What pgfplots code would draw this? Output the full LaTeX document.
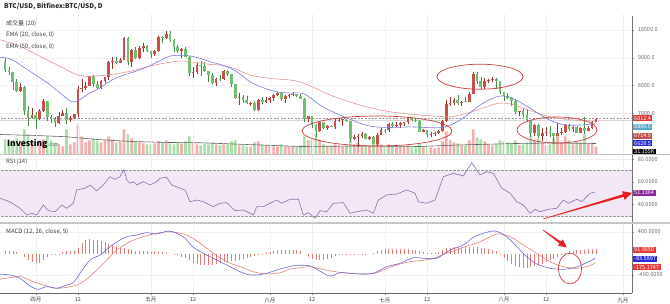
\documentclass[border=0pt]{standalone}
\usepackage{fontspec}
\setmainfont{Noto Sans CJK SC}
\usepackage{pgfplots}
\pgfplotsset{compat=1.18}
\usepackage{pgfplotstable}
\usetikzlibrary{arrows.meta}

\definecolor{upc}{RGB}{200,80,75}
\definecolor{upw}{RGB}{160,50,45}
\definecolor{dnc}{RGB}{112,192,112}
\definecolor{dnw}{RGB}{70,140,70}
\definecolor{upv}{RGB}{242,175,175}
\definecolor{dnv}{RGB}{172,222,172}
\definecolor{ema20}{RGB}{120,125,210}
\definecolor{ema50}{RGB}{225,150,150}
\definecolor{rsiband}{RGB}{242,231,245}
\definecolor{rsiline}{RGB}{135,115,170}
\definecolor{macdb}{RGB}{105,105,215}
\definecolor{macdr}{RGB}{225,130,120}
\definecolor{histc}{RGB}{228,125,120}
\definecolor{annot}{RGB}{205,60,60}
\definecolor{arrowr}{RGB}{232,30,30}
\definecolor{txt}{RGB}{60,60,60}
\definecolor{tickc}{RGB}{110,110,110}
\definecolor{lred}{RGB}{229,57,53}
\definecolor{lteal}{RGB}{90,169,200}
\definecolor{lbrown}{RGB}{192,80,77}
\definecolor{lblue}{RGB}{42,42,216}
\definecolor{lpurple}{RGB}{138,42,160}

% up candles: day o h l c volume(K)
\pgfplotstableread{
d o h l c v
-4 7790 8100 7750 7937 48
-1 6845 7200 6820 6926 48
1 6813 7150 6770 7083 56
2 7083 7500 7050 7456 60
6 6636 7060 6620 6911 40
7 6911 7110 6890 7023 32
9 6770 6890 6680 6834 40
10 6834 6980 6810 6968 48
11 6968 8000 6850 7889 120
12 7889 8220 7780 7915 72
13 7895 8140 7830 7986 48
14 7986 8360 7986 8329 56
17 7902 8200 7880 8163 48
18 8163 8300 8100 8294 56
19 8294 8900 8200 8845 72
20 8845 9040 8600 8895 60
22 8802 9000 8800 8930 52
23 8930 9730 8920 9697 100
25 8845 9300 8650 9281 64
27 8987 9430 8960 9348 48
28 9348 9520 9200 9419 44
31 9119 9270 9080 9235 44
32 9235 9790 9200 9743 52
34 9700 9960 9690 9858 56
38 9234 9360 9000 9325 44
41 8441 8650 8260 8504 48
42 8504 8800 8410 8723 40
47 8094 8270 7980 8250 40
49 8247 8570 8200 8513 40
53 7557 7730 7310 7587 36
56 7345 7400 7260 7378 32
58 7136 7530 7080 7472 52
60 7406 7600 7380 7494 36
61 7494 7600 7360 7541 36
62 7541 7700 7460 7643 32
63 7643 7760 7620 7720 32
65 7514 7660 7380 7633 32
66 7633 7700 7550 7663 32
67 7653 7760 7640 7688 32
71 6786 6900 6680 6906 56
74 6349 6700 6330 6675 60
76 6456 6580 6400 6550 32
78 6500 6780 6440 6734 40
79 6734 6830 6700 6769 36
80 6760 6800 6560 6786 32
83 6083 6230 6050 6162 40
84 6162 6240 5790 6184 48
85 6174 6330 6110 6249 36
87 6093 6190 6050 6157 36
89 5903 6300 5830 6218 48
90 6218 6480 6210 6404 40
92 6385 6650 6320 6614 40
94 6529 6700 6500 6597 32
95 6597 6700 6460 6639 32
96 6639 6700 6540 6673 32
97 6673 6860 6620 6857 36
101 6329 6420 6320 6394 32
103 6218 6340 6140 6248 28
104 6238 6310 6200 6276 24
105 6276 6400 6260 6359 28
106 6359 6760 6340 6741 52
107 6741 7470 6700 7321 92
108 7321 7580 7270 7370 56
109 7370 7540 7290 7466 48
111 7354 7440 7280 7419 36
113 7418 7770 7400 7711 56
114 7711 8480 7700 8424 100
117 7951 8260 7860 8165 52
118 8165 8230 8080 8192 40
119 8192 8290 8120 8228 36
126 7032 7100 6890 7069 36
130 6305 6630 6200 6568 56
132 6184 6480 6020 6295 48
133 6295 6490 6180 6322 36
136 6200 6650 6180 6308 80
137 6308 6480 6230 6334 48
138 6334 6600 6300 6581 72
140 6423 6560 6330 6506 40
142 6308 6500 6290 6488 48
144 6377 6540 6350 6487 44
145 6487 6730 6440 6703 48
146 6703 6830 6680 6812.4 31.155
}\tup

% down candles
\pgfplotstableread{
d o h l c v
-8 8901 9000 8500 8547 60
-7 8547 8680 8380 8470 52
-6 8470 8500 7850 8140 56
-5 8140 8220 7750 7790 64
-3 7937 7980 6950 7084 100
-2 7084 7250 6550 6845 80
0 6926 7050 6450 6813 52
3 7456 7460 6730 6853 72
4 6853 6930 6660 6811 56
5 6811 6850 6520 6636 48
8 7023 7180 6630 6770 100
15 8329 8380 7940 8058 64
16 8058 8160 7870 7902 52
21 8895 9020 8760 8802 48
24 9697 9760 8730 8845 80
26 9281 9390 8970 8987 52
29 9419 9460 9200 9240 40
30 9240 9250 8980 9119 40
33 9743 9780 9520 9700 48
35 9858 9950 9560 9654 44
36 9654 9670 9200 9373 40
37 9373 9450 9170 9234 48
39 9325 9390 9030 9043 52
40 9043 9050 8360 8441 72
43 8723 8880 8330 8700 36
44 8716 8830 8470 8510 44
45 8510 8520 8120 8368 40
46 8368 8450 8050 8094 48
48 8250 8380 8170 8225 36
50 8513 8560 8340 8418 40
51 8418 8420 7960 8041 52
52 8041 8050 7510 7557 56
54 7587 7660 7360 7480 36
55 7480 7620 7320 7355 32
57 7368 7440 7100 7136 48
59 7472 7570 7330 7406 40
64 7720 7750 7460 7514 40
68 7678 7690 7580 7624 32
69 7624 7690 7500 7531 36
70 7531 7540 6690 6786 72
72 6906 6910 6460 6582 60
73 6582 6620 6130 6349 80
75 6675 6690 6440 6456 40
77 6550 6590 6490 6500 32
81 6776 6800 6700 6729 36
82 6729 6740 5950 6083 60
86 6249 6290 6080 6093 32
88 6157 6170 5880 5903 44
91 6404 6430 6300 6375 32
93 6614 6690 6500 6529 36
98 6857 6880 6730 6773 28
99 6773 6800 6680 6741 28
100 6741 6770 6320 6329 40
102 6394 6400 6130 6228 36
110 7466 7660 7300 7354 44
112 7429 7570 7390 7395 36
115 8424 8490 8070 8181 68
116 8181 8300 7880 7951 60
120 8218 8270 7880 8180 40
121 8180 8180 7700 7780 56
122 7780 7780 7460 7625 52
123 7625 7720 7500 7567 48
124 7567 7570 7280 7434 44
125 7434 7500 6960 7032 56
127 7069 7160 6860 6951 40
128 6951 7150 6690 6754 48
129 6754 6770 6130 6305 72
131 6568 6600 6110 6184 64
134 6322 6540 6150 6287 40
135 6297 6300 5880 6200 64
139 6581 6620 6360 6423 56
141 6506 6540 6300 6308 48
143 6488 6880 6260 6377 80
}\tdn

\pgfplotstableread{
d v
-9.33 80
0 76
8 71
16 60
25 52
35 48
43 47
55 40
69 32
85 34
100 32
110 38
125 44
135 46
146 44
}\vma

\pgfplotstableread{
d e
-9.33 9017
-6.73 8967
-4.12 8750
-1.51 8513
1.09 8272
3.70 8030
6.31 7731
8.91 7454
10.2 7407
11.5 7490
14.1 7731
16.7 7911
19.3 8153
22.0 8333
24.6 8452
27.2 8570
29.8 8720
32.4 8900
35.0 9060
37.6 9090
40.2 9064
42.8 8980
45.4 8858
48.0 8760
50.6 8632
53.2 8420
55.8 8138
58.4 7970
61.0 7838
63.6 7760
66.3 7729
68.9 7735
70.2 7680
72.1 7500
74.1 7297
76.7 7100
79.3 6937
81.9 6790
84.5 6640
87.1 6540
89.7 6500
92.3 6490
95.0 6500
97.5 6510
100.2 6500
103.0 6480
106.1 6490
108.4 6600
110.6 6756
113.2 7020
115.8 7297
118.4 7500
121.0 7621
123.6 7580
126.2 7400
128.8 7189
131.4 6960
134.0 6756
136.6 6620
139.3 6570
142.0 6580
144.0 6600
145.8 6628.5
}\emaA

\pgfplotstableread{
d e
-9.33 9651
-4.12 9413
1.09 9053
6.31 8693
10.7 8390
14.1 8333
19.3 8390
24.6 8513
27.2 8606
29.8 8700
33.7 8810
37.6 8880
40.3 8858
45.4 8760
48.0 8740
52.0 8600
55.8 8378
61.0 8260
66.3 8198
68.9 8126
73.0 7900
76.7 7657
80.6 7470
84.5 7297
88.4 7160
92.3 7056
96.2 6990
100.2 6937
104.1 6900
108.0 6875
112.0 6990
115.8 7153
118.4 7280
121.0 7369
123.6 7340
126.2 7225
130.1 7040
134.0 6875
138.0 6790
142.0 6740
145.8 6714.9
}\emaB

\pgfplotstableread{
d r
-9.33 45.6
-6.73 42.6
-4.12 36.8
-2.37 30.9
-1.07 32.4
0.23 30.9
1.96 39.7
3.26 34.7
5.01 33.8
6.75 39.7
8.06 36.8
9.78 41.2
10.66 53.0
12.83 54.5
14.13 57.4
15.88 52.3
17.60 57.4
19.34 64.7
20.65 62.4
21.95 64.7
22.99 71.0
23.70 61.8
24.56 58.9
25.42 60.3
26.30 57.4
28.02 60.3
29.77 57.4
31.52 60.3
32.38 63.3
34.12 64.2
35.43 57.4
37.59 54.5
38.90 53.0
40.20 42.6
41.95 44.1
43.67 42.6
46.27 38.2
48.02 41.2
49.77 41.8
51.93 34.7
54.09 35.3
56.70 30.9
57.59 38.2
59.31 38.2
61.05 41.2
62.80 44.1
64.10 41.2
66.27 44.8
68.44 44.8
69.74 30.9
71.04 32.9
72.78 28.0
74.09 34.7
75.83 33.8
77.56 41.2
80.16 41.8
81.91 32.4
83.66 33.8
86.26 35.3
87.98 32.4
89.29 44.1
91.48 48.6
94.08 49.4
96.69 53.0
98.85 50.1
99.71 42.6
101.90 41.2
104.07 44.1
106.23 64.7
108.84 67.7
111.44 65.3
113.63 77.1
115.80 66.2
117.54 69.1
119.27 67.7
121.45 54.5
123.62 50.1
125.36 42.6
127.09 39.7
128.83 32.4
130.14 35.9
131.44 33.8
133.60 35.9
135.79 36.8
137.51 44.1
138.82 41.2
141.01 44.8
142.31 42.6
144.47 50.1
145.8 51.1364
}\rsi

\pgfplotstableread{
d m
-9.33 -387
-6.73 -400
-4.12 -461
-1.51 -605
0.65 -666
2.84 -617
5.45 -647
8.06 -586
9.78 -543
11.52 -368
14.13 -121
16.74 -28
19.34 126
21.95 251
23.70 313
26.30 344
28.91 387
31.52 363
34.54 419
36.73 376
38.90 283
41.06 115
43.67 4
46.27 -89
48.88 -182
52.37 -307
54.98 -387
57.59 -400
60.19 -368
62.80 -307
65.41 -257
67.8 -220
71.48 -230
74.09 -330
76.69 -420
79.30 -357
81.91 -368
84.52 -381
87.98 -368
91.48 -246
94.94 -182
98.41 -78
101.02 -89
104.51 -89
107.98 65
111.44 158
114.05 301
116.66 376
119.71 419
122.76 313
125.36 126
127.97 -60
130.58 -195
134.05 -275
137.51 -294
141.01 -250
144.47 -140
145.8 -83.59
}\macdA

\pgfplotstableread{
d s
-9.33 -480
-4.12 -431
-0.65 -524
2.84 -605
5.87 -647
9.78 -605
11.97 -543
14.99 -368
18.48 -121
21.09 65
24.56 219
28.02 313
31.52 376
34.98 405
39.34 344
42.81 190
46.27 4
49.77 -153
53.23 -246
56.70 -339
60.19 -381
63.66 -357
66.27 -290
69.0 -265
71.48 -245
75.83 -310
80.16 -360
85.38 -381
88.87 -357
93.20 -233
97.55 -153
102.76 -108
107.12 4
111.44 115
115.80 219
120.15 363
123.62 313
127.09 158
130.58 4
134.05 -153
137.51 -246
141.01 -275
144.47 -225
145.8 -175.17
}\macdB

\pgfplotstableread{
d h
-8 50
-7 55
-6 45
-5 25
-4 0
-3 -60
-2 -120
-1 -160
0 -180
1 -170
2 -130
3 -60
4 -30
5 -20
6 -10
7 30
8 45
9 50
10 40
11 100
12 200
13 250
14 270
15 260
16 250
17 235
18 210
19 170
20 150
21 140
22 120
23 100
24 80
25 70
26 50
27 40
28 50
29 40
30 30
31 40
32 30
33 20
34 10
35 0
36 -10
37 -30
38 -60
39 -90
40 -130
41 -170
42 -195
43 -210
44 -220
45 -215
46 -205
47 -190
48 -175
49 -165
50 -155
51 -145
52 -135
53 -125
54 -110
55 -90
56 -70
57 -50
58 -30
59 -15
60 10
61 30
62 50
63 60
64 70
65 70
66 70
67 65
68 60
69 40
70 0
71 -60
72 -100
73 -130
74 -130
75 -125
76 -110
77 -80
78 -50
79 -30
80 -15
81 -5
82 -10
83 -15
84 -15
85 -10
86 -5
87 0
88 10
89 50
90 70
91 80
92 90
93 90
94 85
95 80
96 80
97 75
98 70
99 60
100 40
101 25
102 15
103 10
104 10
105 20
106 60
107 100
108 110
109 115
110 120
111 120
112 125
113 130
114 130
115 125
116 110
117 100
118 90
119 70
120 40
121 -20
122 -80
123 -140
124 -190
125 -230
126 -260
127 -270
128 -270
129 -260
130 -240
131 -220
132 -190
133 -160
134 -130
135 -100
136 -60
137 -20
138 10
139 40
140 55
141 60
142 65
143 70
144 80
145 88
146 91.965
}\hist

\pgfplotsset{
  panel/.style={
    scale only axis, width=632pt, xmin=-9.33, xmax=155.4,
    axis line style={draw=none},
    xtick={0,11,30,41,61,72,91,102,122,133,153},
    xticklabels={}, xtick pos=bottom, ytick pos=right,
    xmajorgrids, ymajorgrids,
    major grid style={draw=black!6, line width=0.4pt},
    x tick style={draw=none},
    y tick style={draw=black!45, line width=0.4pt},
    tick align=outside, major tick length=2pt,
    yticklabel pos=right,
    scaled y ticks=false,
    yticklabel style={font=\fontsize{5.5}{6}\selectfont, text=tickc, xshift=0.3pt},
    /pgf/number format/assume math mode=true,
  },
}
\tikzset{
  lbl/.style={anchor=west, font=\fontsize{5.5}{6}\selectfont, text=white,
    inner xsep=1.5pt, inner ysep=0.9pt},
}

\begin{document}
\begin{tikzpicture}[x=1pt,y=1pt]
\path[use as bounding box] (0,0) rectangle (670,303);

% ---------- volume (behind price) ----------
\begin{axis}[scale only axis, width=632pt, height=140.5pt, at={(0pt,148.5pt)},
  xmin=-9.33, xmax=155.4, ymin=0, ymax=562, hide axis]
\addplot[ybar, bar width=2.7pt, bar shift=0pt, fill=upv, draw=none] table[x=d,y=v] {\tup};
\addplot[ybar, bar width=2.7pt, bar shift=0pt, fill=dnv, draw=none] table[x=d,y=v] {\tdn};
\addplot[color=black!60, line width=0.6pt] table[x=d,y=v] {\vma};
\end{axis}

\node[anchor=base west, inner sep=0pt, font=\bfseries\fontsize{8.5}{9}\selectfont] at (7,156.5)
  {Investing\hspace{0.3pt}{\mdseries\fontsize{5}{5}\selectfont\color{black!60}.com}};

% ---------- price ----------
\begin{axis}[panel, at={(0pt,148.5pt)}, height=140.5pt, ymin=5517, ymax=10576,
  ytick={7000,8000,9000,10000},
  yticklabel style={/pgf/number format/fixed, /pgf/number format/fixed zerofill,
    /pgf/number format/precision=1, /pgf/number format/1000 sep={}}]
\draw[black!40, line width=0.4pt, dash pattern=on 2pt off 1.5pt] (axis cs:-10,6812.4) -- (axis cs:160,6812.4);
\draw[black!15, line width=0.4pt] (axis cs:-10,6765) -- (axis cs:160,6765);
\addplot[dnw, line width=0.5pt, quiver={u=0, v=\thisrow{h}-\thisrow{l}}] table[x=d,y=l] {\tdn};
\addplot[upw, line width=0.5pt, quiver={u=0, v=\thisrow{h}-\thisrow{l}}] table[x=d,y=l] {\tup};
\addplot[dnc, line width=2.7pt, quiver={u=0, v=\thisrow{c}-\thisrow{o}}] table[x=d,y=o] {\tdn};
\addplot[upc, line width=2.7pt, quiver={u=0, v=\thisrow{c}-\thisrow{o}}] table[x=d,y=o] {\tup};
\addplot[ema50, line width=0.6pt, smooth] table[x=d,y=e] {\emaB};
\addplot[ema20, line width=0.6pt, smooth] table[x=d,y=e] {\emaA};
\end{axis}

% ---------- RSI ----------
\begin{axis}[panel, at={(0pt,80pt)}, height=68.5pt, ymin=23.8, ymax=84.3,
  ytick={40,60,80},
  yticklabel style={/pgf/number format/fixed, /pgf/number format/fixed zerofill,
    /pgf/number format/precision=4}]
\fill[rsiband] (axis cs:-10,30) rectangle (axis cs:160,70);
\draw[black!40, line width=0.4pt, dash pattern=on 2.5pt off 1.5pt] (axis cs:-10,70) -- (axis cs:160,70);
\draw[black!40, line width=0.4pt, dash pattern=on 2.5pt off 1.5pt] (axis cs:-10,30) -- (axis cs:160,30);
\addplot[rsiline, line width=0.6pt] table[x=d,y=r] {\rsi};
\end{axis}

% ---------- MACD ----------
\begin{axis}[panel, at={(0pt,10pt)}, height=69pt, ymin=-735, ymax=549,
  ytick={-400,400},
  yticklabel style={/pgf/number format/fixed, /pgf/number format/fixed zerofill,
    /pgf/number format/precision=4},
  xticklabels={四月,12,五月,12,六月,12,七月,12,八月,12,九月},
  x tick style={draw=black!50, line width=0.4pt},
  xticklabel style={font=\fontsize{5.5}{6}\selectfont, text=txt, yshift=1pt}]
\addplot[histc, line width=0.55pt, ycomb] table[x=d,y=h] {\hist};
\addplot[macdr, line width=0.6pt, smooth] table[x=d,y=s] {\macdB};
\addplot[macdb, line width=0.6pt, smooth] table[x=d,y=m] {\macdA};
\end{axis}

% ---------- frame lines ----------
\draw[black!55, line width=0.5pt] (632,287) -- (632,10);
\draw[black!60, line width=0.5pt] (0,10) -- (632,10);
\draw[black!25, line width=0.5pt] (0,148.5) -- (670,148.5);
\draw[black!22, line width=1.6pt] (0,80) -- (670,80);

% ---------- titles ----------
\node[anchor=west, inner sep=0pt, font=\bfseries\fontsize{6.5}{7}\selectfont, text=black!85] at (4,296.3) {BTC/USD, Bitfinex:BTC/USD, D};
\node[anchor=west, inner sep=0pt, font=\fontsize{6}{7}\selectfont, text=txt] at (6,279) {成交量 (20)};
\node[anchor=west, inner sep=0pt, font=\fontsize{6}{7}\selectfont, text=txt] at (6,268) {EMA (20, close, 0)};
\node[anchor=west, inner sep=0pt, font=\fontsize{6}{7}\selectfont, text=txt] at (6,256.3) {EMA (50, close, 0)};
\node[anchor=west, inner sep=0pt, font=\fontsize{6}{7}\selectfont, text=txt] at (6,141.3) {RSI (14)};
\node[anchor=west, inner sep=0pt, font=\fontsize{6}{7}\selectfont, text=txt] at (6,71.3) {MACD (12, 26, close, 9)};

% ---------- right value boxes ----------
\node[lbl, fill=lred] at (632.5,184.7) {6812.4};
\node[lbl, fill=lteal] at (632.5,176) {6806.5};
\node[lbl, fill=lbrown] at (632.5,167.3) {6714.9};
\node[lbl, fill=lblue] at (632.5,159.7) {6628.5};
\node[lbl, fill=black] at (632.5,151.5) {31.155K};
\node[lbl, fill=lpurple] at (632.5,110.3) {51.1364};
\node[lbl, fill=lred] at (632.5,53) {91.9650};
\node[lbl, fill=lblue] at (632.5,44.3) {-83.5897};
\node[lbl, fill=lred] at (632.5,35.7) {-175.1747};

% ---------- annotations ----------
\draw[annot, line width=0.7pt] (480,226.3) ellipse [x radius=43pt, y radius=12.5pt];
\draw[annot, line width=0.7pt] (377,172) ellipse [x radius=75pt, y radius=15pt];
\draw[annot, line width=0.7pt] (557,173) ellipse [x radius=40pt, y radius=13pt];
\draw[annot, line width=0.7pt] (570,34.5) ellipse [x radius=11.5pt, y radius=15.5pt];
\fill[arrowr] (542.93,84.24) -- (623.0,108.73) -- (622.1,111.8) -- (632,110) -- (624.62,103.16) -- (623.72,106.23) -- (543.07,83.76) -- cycle;
\fill[arrowr] (543.18,73.24) -- (560.98,61.42) -- (562.65,63.68) -- (566.7,55.7) -- (557.89,57.24) -- (559.56,59.50) -- (542.82,72.76) -- cycle;
\end{tikzpicture}
\end{document}
